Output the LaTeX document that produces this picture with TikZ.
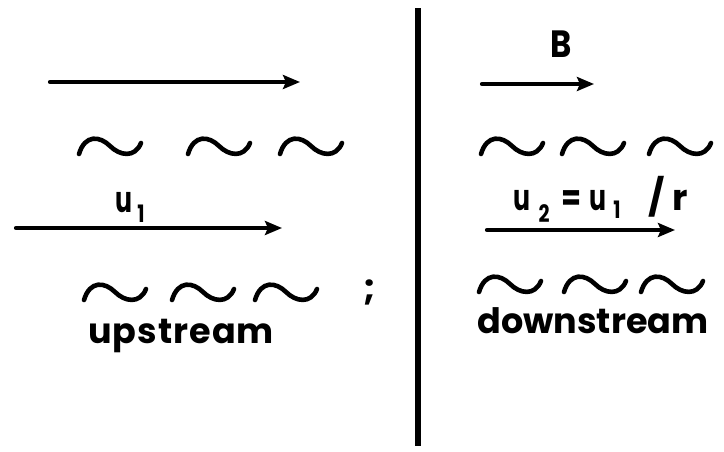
\documentclass[tikz,border=0pt]{standalone}
\usepackage{fontspec}
\setmainfont{Poppins}
\newfontfamily\wordfont[LetterSpace=3]{Poppins}
\usetikzlibrary{arrows.meta}
\tikzset{
  flow/.style={line width=4.2pt, line cap=round, -{Stealth[length=17pt,width=14pt,inset=3pt]}},
  wave/.style={line width=4.6pt, line cap=round},
  big/.style={inner sep=0pt, anchor=base, font=\fontsize{35}{35}\wordfont\bfseries},
  sym/.style={inner sep=0pt, anchor=base, font=\fontsize{36}{36}\bfseries},
  small/.style={inner sep=0pt, anchor=base, font=\fontsize{24}{24}\bfseries},
  tildepic/.pic={\draw[wave] (-31,8) .. controls (-25,-12) and (-10,-10) .. (0,0) .. controls (10,10) and (25,12) .. (31,-3);}
}
\begin{document}
\begin{tikzpicture}[x=1pt,y=-1pt]
\useasboundingbox (0,0) rectangle (724,451);
% shock front
\coordinate (top) at (418,8);
\coordinate (bot) at (418,446);
\draw[line width=6pt] (top) -- (bot);
% upstream arrows
\coordinate (a1s) at (50,82);
\coordinate (a1e) at (300,82);
\draw[flow] (a1s) -- (a1e);
\coordinate (a2s) at (16,228);
\coordinate (a2e) at (282,228);
\draw[flow] (a2s) -- (a2e);
\node[sym] (u1) at (123.5,212) {\scalebox{0.7}[1]{u}};
\node[small] (u1s) at (141,222) {\scalebox{0.8}[1]{1}};
% upstream waves
\pic at (110,146) {tildepic};
\pic at (219,146) {tildepic};
\pic at (311,146) {tildepic};
\pic at (115,292) {tildepic};
\pic at (203,292) {tildepic};
\pic at (286,292) {tildepic};
\node[big] (up) at (181,343) {upstream};
\node[sym] (semi) at (370,300) {;};
% downstream
\node[sym, font=\fontsize{38}{38}\bfseries] (B) at (561.5,57) {\scalebox{0.85}[1]{B}};
\coordinate (bs) at (482,84);
\coordinate (be) at (594,84);
\draw[flow] (bs) -- (be);
\pic at (512,146) {tildepic};
\pic at (593,146) {tildepic};
\pic at (680,146) {tildepic};
\node[sym] (u2a) at (522,210) {\scalebox{0.7}[1]{u}};
\node[small] (u2s) at (544,222) {\scalebox{0.8}[1]{2}};
\node[sym] (eq) at (572,210) {\scalebox{0.8}[1]{=}};
\node[sym] (u2b) at (598,210) {\scalebox{0.7}[1]{u}};
\node[small] (u2bs) at (617,218) {\scalebox{0.8}[1]{1}};
\node[sym] (sl) at (657,210) {/};
\node[sym] (rr) at (680,210) {r};
\coordinate (cs) at (487,230);
\coordinate (ce) at (675,230);
\draw[flow] (cs) -- (ce);
\pic at (510,284) {tildepic};
\pic at (595,284) {tildepic};
\pic at (672,284) {tildepic};
\node[big, font=\fontsize{35}{35}\bfseries] (down) at (593,333) {downstream};
\end{tikzpicture}
\end{document}
